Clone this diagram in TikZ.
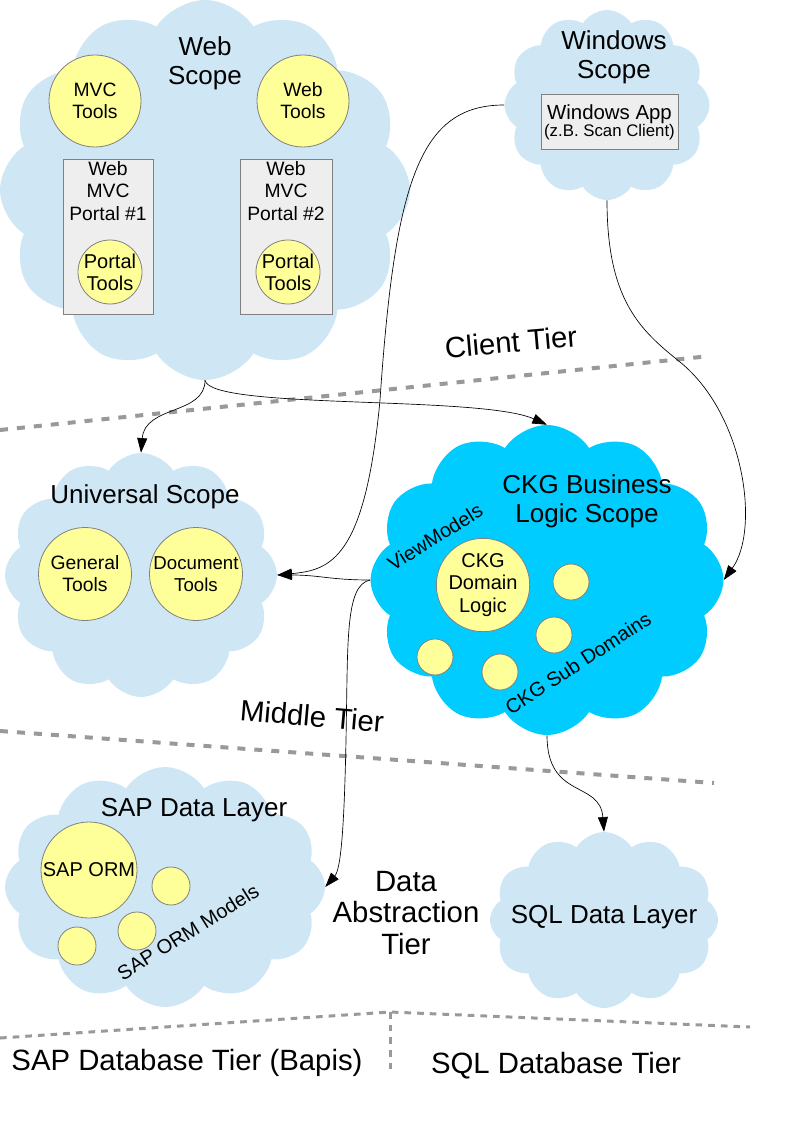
\documentclass[tikz,border=0pt]{standalone}
\usepackage{fontspec}
\setmainfont{Liberation Sans}
\usetikzlibrary{shapes.symbols,arrows.meta}
\definecolor{cloudblue}{HTML}{CFE7F5}
\definecolor{ckgcyan}{HTML}{00CCFF}
\definecolor{tooly}{HTML}{FFFF99}
\definecolor{boxgray}{HTML}{EEEEEE}
\definecolor{edgegray}{HTML}{808080}
\definecolor{tiergray}{HTML}{999999}
\begin{document}
\begin{tikzpicture}[x=0.75pt,y=-0.75pt,
  scopecloud/.style={cloud, cloud puffs=12, cloud puff arc=115, cloud ignores aspect, fill=cloudblue, draw=none, inner sep=0pt},
  tool/.style={circle, fill=tooly, draw=edgegray, line width=0.6pt, inner sep=0pt, align=center, font=\fontsize{14.5}{16.5}\selectfont},
  dot/.style={circle, fill=tooly, draw=edgegray, line width=0.6pt, inner sep=0pt},
  appbox/.style={rectangle, fill=boxgray, draw=edgegray, line width=0.75pt, inner sep=0pt},
  boxtext/.style={align=center, font=\fontsize{14.5}{17}\selectfont, inner sep=1pt, anchor=north},
  title/.style={align=center, font=\fontsize{19.5}{21.5}\selectfont, inner sep=0pt},
  tier/.style={align=center, font=\fontsize{22}{23.6}\selectfont, inner sep=0pt},
  slanted/.style={font=\fontsize{15}{17}\selectfont, inner sep=0pt},
  tierline/.style={draw=tiergray, line width=3pt, dash pattern=on 6pt off 6.75pt},
  tierthin/.style={draw=tiergray, line width=2.25pt, dash pattern=on 5pt off 4.5pt},
  link/.style={draw=black, line width=0.5pt, -{Triangle[length=11pt,width=7.5pt]}},
]
\useasboundingbox (0,0) rectangle (794,1123);

% ---------- tier separators ----------
\coordinate (t1a) at (0,430);
\coordinate (t1b) at (710,356);
\coordinate (t2a) at (0,731);
\coordinate (t2b) at (714,783);
\coordinate (t3a) at (0,1038);
\coordinate (t3m) at (390,1012);
\coordinate (t3b) at (750,1027);
\coordinate (t4b) at (390,1072);
\draw[tierline] (t1a) -- (t1b);
\draw[tierline] (t2a) -- (t2b);
\draw[tierthin] (t3a) -- (t3m) -- (t3b);
\draw[tierthin] (t3m) -- (t4b);

% ---------- clouds ----------
\node[scopecloud, minimum width=307.5pt, minimum height=285pt] (web) at (205,190) {};
\node[scopecloud, minimum width=153.75pt, minimum height=142.5pt] (win) at (607,105) {};
\node[scopecloud, minimum width=204pt, minimum height=183pt] (univ) at (141,575) {};
\node[scopecloud, fill=ckgcyan, minimum width=264.75pt, minimum height=232.5pt] (ckg) at (547,580) {};
\node[scopecloud, minimum width=240pt, minimum height=180pt] (sap) at (165,887) {};
\node[scopecloud, minimum width=171pt, minimum height=132pt] (sql) at (604,920) {};

% ---------- Web Scope ----------
\node[title] (webt) at (205,63) {Web\\Scope};
\node[tool, minimum size=69pt] (mvc) at (95,101) {MVC\\Tools};
\node[tool, minimum size=69pt] (webtools) at (303,101) {Web\\Tools};
\node[appbox, minimum width=67.5pt, minimum height=115.5pt] (p1) at (108,237) {};
\node[appbox, minimum width=69pt, minimum height=115.5pt] (p2) at (286,237) {};
\node[boxtext] (p1t) at (p1.north) {Web\\MVC\\Portal \#1};
\node[boxtext] (p2t) at (p2.north) {Web\\MVC\\Portal \#2};
\node[tool, minimum size=48pt, font=\fontsize{15}{16.5}\selectfont] (pt1) at (110,272) {Portal\\Tools};
\node[tool, minimum size=48pt, font=\fontsize{15}{16.5}\selectfont] (pt2) at (288,272) {Portal\\Tools};

% ---------- Windows Scope ----------
\node[title] (wint) at (614,57) {Windows\\Scope};
\node[appbox, minimum width=102.75pt, minimum height=41.25pt] (winapp) at (609.5,122.5) {};
\node[align=center, inner sep=0pt] (winappt) at (winapp.center)
  {{\fontsize{15.3}{16}\selectfont Windows App}\\[-1pt]{\fontsize{12.6}{13.5}\selectfont (z.B. Scan Client)}};

% ---------- Universal Scope ----------
\node[title] (univt) at (145,497) {Universal Scope};
\node[tool, minimum size=69.75pt] (gen) at (85,574) {General\\Tools};
\node[tool, minimum size=69.75pt, font=\fontsize{14}{16.5}\selectfont] (doc) at (196,574) {Document\\Tools};

% ---------- CKG Business Logic Scope ----------
\node[title] (ckgt) at (587,501) {CKG Business\\Logic Scope};
\node[tool, minimum size=69pt, font=\fontsize{15}{17}\selectfont] (dom) at (483,585) {CKG\\Domain\\Logic};
\node[dot, minimum size=27pt] (s1) at (571,582) {};
\node[dot, minimum size=27pt] (s2) at (554,635) {};
\node[dot, minimum size=27pt] (s3) at (435,657) {};
\node[dot, minimum size=27pt] (s4) at (500,672) {};
\node[slanted, rotate=32] (vm) at (435,537) {ViewModels};
\node[slanted, rotate=33] (sub) at (578,663) {CKG Sub Domains};

% ---------- Data layers ----------
\node[title] (sapt) at (194,810) {SAP Data Layer};
\node[tool, minimum size=72pt, font=\fontsize{15}{17}\selectfont] (orm) at (89,870) {SAP ORM};
\node[dot, minimum size=28.5pt] (o1) at (171,886) {};
\node[dot, minimum size=28.5pt] (o2) at (137,931) {};
\node[dot, minimum size=28.5pt] (o3) at (77,946) {};
\node[slanted, rotate=32] (ormm) at (188,932) {SAP ORM Models};
\node[title] (sqlt) at (604,917) {SQL Data Layer};

% ---------- tier labels ----------
\node[tier, rotate=5] (client) at (511,342) {Client Tier};
\node[tier, rotate=-5] (middle) at (312,716) {Middle Tier};
\node[tier] (dat) at (406,913) {Data\\Abstraction\\Tier};
\node[tier] (sapdb) at (187,1063) {SAP Database Tier (Bapis)};
\node[tier] (sqldb) at (556,1066) {SQL Database Tier};

% ---------- connectors ----------
\draw[link] (web.south) .. controls (205,415) and (145,405) .. (univ.north);
\draw[link] (web.south) .. controls (210,410) and (480,395) .. (ckg.north);
\draw[link] (win.west) .. controls (420,105) and (395,180) .. (380,400)
   .. controls (365,560) and (330,570) .. (univ.east);
\draw[link] (ckg.west) .. controls (330,580) and (320,575) .. (univ.east);
\draw[link] (ckg.west) .. controls (345,585) and (348,640) .. (346,740)
   .. controls (344,840) and (340,870) .. (sap.east);
\draw[link] (win.south) .. controls (607,300) and (640,330) .. (680,362)
   .. controls (745,415) and (760,530) .. (ckg.east);
\draw[link] (ckg.south) .. controls (547,800) and (600,780) .. (sql.north);
\end{tikzpicture}
\end{document}
